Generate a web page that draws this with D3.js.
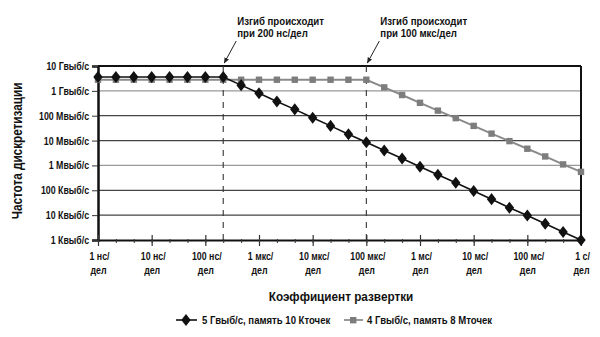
<!DOCTYPE html>
<html><head><meta charset="utf-8">
<script src="https://cdn.jsdelivr.net/npm/d3@7"></script>
<style>
body{margin:0;background:#fff}
svg text{font-family:"Liberation Sans Narrow","Arial Narrow","Liberation Sans",sans-serif;font-weight:bold;fill:#111}
</style></head>
<body><svg id="c" width="600" height="337"></svg>
<script>
const categories = ["1 нс","2 нс","5 нс","10 нс","20 нс","50 нс","100 нс","200 нс","500 нс",
  "1 мкс","2 мкс","5 мкс","10 мкс","20 мкс","50 мкс","100 мкс","200 мкс","500 мкс",
  "1 мс","2 мс","5 мс","10 мс","20 мс","50 мс","100 мс","200 мс","500 мс","1 с"];
const decadeCats = ["1 нс","10 нс","100 нс","1 мкс","10 мкс","100 мкс","1 мс","10 мс","100 мс","1 с"];
const decadeLabels = ["1 нс/","10 нс/","100 нс/","1 мкс/","10 мкс/","100 мкс/","1 мс/","10 мс/","100 мс/","1 с/"];
const series1Name = "5 Гвыб/с, память 10 Кточек";
const series1 = [3.6e9,3.6e9,3.6e9,3.6e9,3.6e9,3.6e9,3.6e9,3.6e9,1.7e9,8.0e8,3.7e8,1.8e8,8.3e7,3.9e7,1.8e7,8.6e6,
  4.0e6,1.9e6,8.9e5,4.2e5,2.0e5,9.3e4,4.4e4,2.0e4,9.6e3,4.5e3,2.1e3,1.0e3];
const series2Name = "4 Гвыб/с, память 8 Мточек";
const series2 = [2.8e9,2.8e9,2.8e9,2.8e9,2.8e9,2.8e9,2.8e9,2.8e9,2.8e9,2.8e9,2.8e9,2.8e9,2.8e9,2.8e9,2.8e9,2.8e9,
  1.38e9,6.8e8,3.3e8,1.6e8,8.0e7,3.9e7,1.9e7,9.5e6,4.7e6,2.3e6,1.1e6,5.5e5];
const yTicks = [1e3,1e4,1e5,1e6,1e7,1e8,1e9,1e10];
const yLabels = ["1 Квыб/с","10 Квыб/с","100 Квыб/с","1 Мвыб/с","10 Мвыб/с","100 Мвыб/с","1 Гвыб/с","10 Гвыб/с"];
const annotations = [
  {cat:"200 нс", lines:["Изгиб происходит","при 200 нс/дел"]},
  {cat:"100 мкс", lines:["Изгиб происходит","при 100 мкс/дел"]}
];
const xTitle = "Коэффициент развертки";
const yTitle = "Частота дискретизации";

const svg = d3.select("#c");
const L=98, R=581, T=66, B=240;
const x = d3.scalePoint().domain(categories).range([L,R]);
const y = d3.scaleLog().domain([1e3,1e10]).range([B,T]);

svg.append("defs").append("marker").attr("id","arr").attr("viewBox","0 0 10 10")
  .attr("refX",9).attr("refY",5).attr("markerWidth",6).attr("markerHeight",6).attr("orient","auto")
  .append("path").attr("d","M0,1 L10,5 L0,9 Z").attr("fill","#222");

// gridlines
svg.append("g").selectAll("line").data(yTicks.slice(1,-1)).join("line")
  .attr("x1",L).attr("x2",R).attr("y1",d=>y(d)).attr("y2",d=>y(d))
  .attr("stroke",d=>(d===1e6||d===1e9)?"#999":"#444").attr("stroke-width",1.2);

// frame top/right
svg.append("line").attr("x1",L).attr("x2",R).attr("y1",T).attr("y2",T).attr("stroke","#111").attr("stroke-width",2);
svg.append("line").attr("x1",R).attr("x2",R).attr("y1",T).attr("y2",B).attr("stroke","#111").attr("stroke-width",2);

// dashed bend lines
svg.append("g").selectAll("line").data(annotations).join("line")
  .attr("x1",d=>x(d.cat)).attr("x2",d=>x(d.cat)).attr("y1",T).attr("y2",B)
  .attr("stroke","#333").attr("stroke-width",1.1).attr("stroke-dasharray","6,6");

// y axis
const ya = svg.append("g").attr("transform",`translate(${L},0)`)
  .call(d3.axisLeft(y).tickValues(yTicks).tickFormat((d,i)=>yLabels[i]).tickSize(6).tickPadding(3));
ya.select(".domain").attr("stroke","#111").attr("stroke-width",2.5);
ya.selectAll(".tick line").attr("stroke","#333");
ya.selectAll("text").attr("font-size",11).attr("data-k",0.8);

// x axis minor
const xm = svg.append("g").attr("transform",`translate(0,${B})`)
  .call(d3.axisBottom(x).tickValues(categories).tickFormat("").tickSizeInner(3).tickSizeOuter(0));
xm.select(".domain").attr("stroke","#111").attr("stroke-width",2);
xm.selectAll(".tick line").attr("stroke","#333").attr("y1",-1);
// x axis major
const xa = svg.append("g").attr("transform",`translate(0,${B})`)
  .call(d3.axisBottom(x).tickValues(decadeCats).tickFormat("").tickSizeInner(6).tickSizeOuter(0));
xa.select(".domain").remove();
xa.selectAll(".tick line").attr("stroke","#333").attr("y1",-5).attr("stroke-width",1.2);
xa.selectAll(".tick").each(function(d,i){
  const g = d3.select(this);
  g.append("text").attr("text-anchor","middle").attr("font-size",11).attr("x",1).attr("y",20).attr("data-k",0.8).text(decadeLabels[i]);
  g.append("text").attr("text-anchor","middle").attr("font-size",11).attr("x",0).attr("y",34).attr("data-k",0.8).text("дел");
});

// series
const line = d3.line().x((d,i)=>x(categories[i])).y(d=>y(d));
svg.append("path").datum(series2).attr("d",line).attr("fill","none").attr("stroke","#8a8a8a").attr("stroke-width",2);
svg.append("g").selectAll("rect").data(series2).join("rect")
  .attr("x",(d,i)=>x(categories[i])-3.2).attr("y",d=>y(d)-3.2).attr("width",6.4).attr("height",6.4).attr("fill","#7d7d7d");
svg.append("path").datum(series1).attr("d",line).attr("fill","none").attr("stroke","#111").attr("stroke-width",1.6);
const diamond = d3.symbol().type(d3.symbolDiamond).size(42);
svg.append("g").selectAll("path").data(series1).join("path")
  .attr("d",diamond).attr("transform",(d,i)=>`translate(${x(categories[i])},${y(d)}) scale(1.35,1)`).attr("fill","#111");

// annotations
annotations.forEach(a=>{
  const cx = x(a.cat);
  a.lines.forEach((l,j)=>svg.append("text").attr("font-size",11.5).attr("x",cx+14).attr("y",25+j*12).attr("data-k",0.84).text(l));
  svg.append("line").attr("x1",cx+13).attr("y1",41).attr("x2",cx+1).attr("y2",63)
    .attr("stroke","#222").attr("stroke-width",1).attr("marker-end","url(#arr)");
});

// titles
svg.append("text").attr("x",341).attr("y",301).attr("text-anchor","middle").attr("font-size",13.5).attr("data-k",0.87).text(xTitle);
svg.append("g").attr("transform",`translate(22,${(T+B)/2 - 2}) rotate(-90)`)
  .append("text").attr("text-anchor","middle").attr("font-size",14).attr("data-k",0.84).text(yTitle);

// legend
const lg = svg.append("g");
lg.append("line").attr("x1",176).attr("x2",197).attr("y1",320).attr("y2",320).attr("stroke","#111").attr("stroke-width",1.6);
lg.append("path").attr("d",diamond).attr("transform","translate(186,320) scale(1.35,1)").attr("fill","#111");
lg.append("text").attr("x",202).attr("y",324).attr("font-size",11).attr("data-k",0.87).text(series1Name);
lg.append("line").attr("x1",344).attr("x2",363).attr("y1",320).attr("y2",320).attr("stroke","#999").attr("stroke-width",2);
lg.append("rect").attr("x",350).attr("y",317).attr("width",6.4).attr("height",6.4).attr("fill","#7d7d7d");
lg.append("text").attr("x",367).attr("y",324).attr("font-size",11).attr("data-k",0.87).text(series2Name);

// condense text horizontally (narrow typeface not installed)
svg.selectAll("text").each(function(){
  const k = +this.getAttribute("data-k") || 0.82;
  const anchor = getComputedStyle(this).textAnchor;
  const origin = anchor==="end" ? "right" : anchor==="middle" ? "center" : "left";
  this.style.transformBox = "fill-box";
  this.style.transformOrigin = origin + " center";
  this.style.transform = `scaleX(${k})`;
});
</script></body></html>
